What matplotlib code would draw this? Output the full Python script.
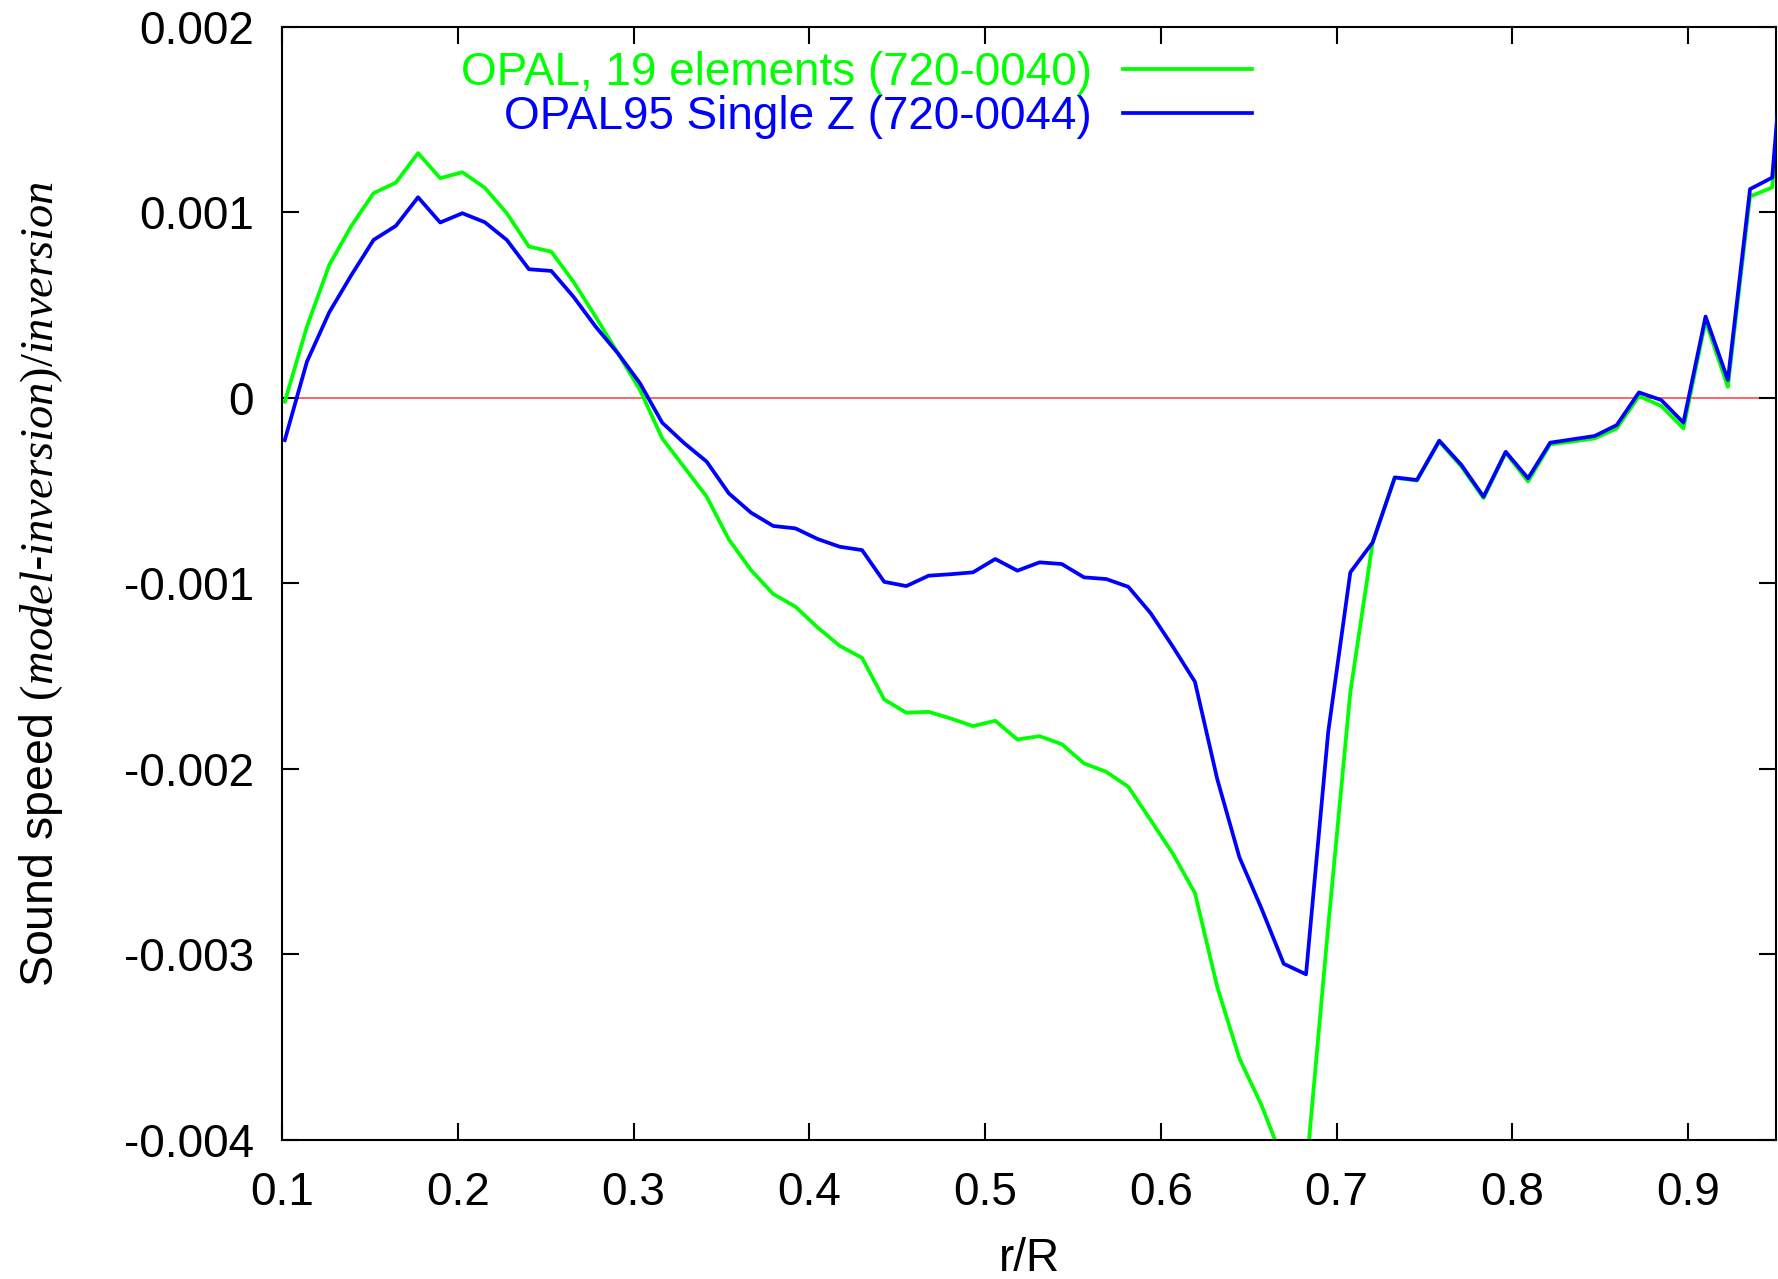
#! /usr/bin/env python

import matplotlib
matplotlib.use('Agg')
import matplotlib.pyplot as plt
from matplotlib.ticker import FuncFormatter
import numpy as np

# radius grid (r/R)
r = [0.1016, 0.1142, 0.1269, 0.1395, 0.1521, 0.1648, 0.1774, 0.1900, 0.2026, 0.2153,
     0.2279, 0.2405, 0.2532, 0.2658, 0.2784, 0.2911, 0.3037, 0.3163, 0.3289, 0.3416,
     0.3542, 0.3668, 0.3795, 0.3921, 0.4047, 0.4173, 0.4300, 0.4426, 0.4552, 0.4679,
     0.4805, 0.4931, 0.5058, 0.5184, 0.5310, 0.5436, 0.5563, 0.5689, 0.5815, 0.5942,
     0.6068, 0.6194, 0.6321, 0.6447, 0.6573, 0.6699, 0.6826, 0.6952, 0.7078, 0.7205,
     0.7331, 0.7457, 0.7584, 0.7710, 0.7836, 0.7962, 0.8089, 0.8215, 0.8341, 0.8468,
     0.8594, 0.8720, 0.8847, 0.8973, 0.9099, 0.9226, 0.9352, 0.9478, 0.9604]

# OPAL, 19 elements (720-0040)
opal19 = [-0.00002, 0.000385, 0.000717, 0.000928, 0.001104, 0.001161, 0.00132, 0.001185, 0.001217, 0.001134,
          0.000996, 0.000816, 0.000789, 0.000627, 0.000439, 0.000241, 0.000043, -0.000218, -0.000374, -0.000532,
          -0.000762, -0.000928, -0.001057, -0.001125, -0.001237, -0.001336, -0.001401, -0.001625, -0.001697, -0.001692,
          -0.001728, -0.001769, -0.00174, -0.001841, -0.001823, -0.001866, -0.00197, -0.002015, -0.002096, -0.002276,
          -0.002456, -0.002669, -0.003175, -0.00356, -0.003813, -0.00412, -0.00418, -0.00285, -0.001586, -0.000779,
          -0.00043, -0.000445, -0.000235, -0.00037, -0.00054, -0.000295, -0.00045, -0.00025, -0.000235, -0.000218,
          -0.000164, 0.00001, -0.000043, -0.000164, 0.000415, 0.00006, 0.001086, 0.001135, 0.00255]

# OPAL95 Single Z (720-0044)
opal95 = [-0.000227, 0.000196, 0.000462, 0.000663, 0.000852, 0.000928, 0.001082, 0.000946, 0.000996, 0.000948,
          0.000852, 0.000694, 0.000685, 0.000546, 0.000385, 0.000241, 0.000079, -0.000133, -0.000244, -0.000343,
          -0.000514, -0.000618, -0.00069, -0.000703, -0.00076, -0.000802, -0.00082, -0.000991, -0.001014, -0.000958,
          -0.00095, -0.00094, -0.000868, -0.000931, -0.000886, -0.000895, -0.000967, -0.000976, -0.001018, -0.00116,
          -0.00134, -0.00153, -0.002055, -0.002476, -0.002753, -0.00305, -0.003107, -0.001802, -0.00094, -0.000779,
          -0.000428, -0.000442, -0.00023, -0.000361, -0.000532, -0.00029, -0.000433, -0.000241, -0.000223, -0.000205,
          -0.000146, 0.00003, -0.000011, -0.000133, 0.000439, 0.000097, 0.001126, 0.001188, 0.00263]

labels = ['OPAL, 19 elements (720-0040)', 'OPAL95 Single Z (720-0044)']


def main():
    plt.rcParams['font.family'] = ['Liberation Sans', 'DejaVu Sans']
    plt.rcParams['mathtext.fontset'] = 'custom'
    plt.rcParams['mathtext.it'] = 'Liberation Serif:italic'
    plt.rcParams['mathtext.rm'] = 'Liberation Serif'
    plt.rcParams['axes.unicode_minus'] = False

    fig = plt.figure(figsize=(17.78, 12.79), dpi=100)
    ax = fig.add_axes([0.1586, 0.1087, 0.8403, 0.8702])

    ax.axhline(0, color='#ff3a3a', lw=1.1, zorder=1)
    ax.plot(r, opal19, color='#00ff00', lw=2.7, label=labels[0], zorder=2)
    ax.plot(r, opal95, color='#0000ff', lw=2.7, label=labels[1], zorder=3)

    ax.set_xlim(0.1, 0.95)
    ax.set_ylim(-0.004, 0.002)
    ax.set_xticks(np.arange(0.1, 0.91, 0.1))
    ax.set_yticks(np.arange(-0.004, 0.0021, 0.001))
    fmt = FuncFormatter(lambda v, p: '%g' % round(v, 6))
    ax.xaxis.set_major_formatter(fmt)
    ax.yaxis.set_major_formatter(fmt)

    ax.tick_params(direction='in', top=True, right=True, length=12, width=1.5,
                   labelsize=33, colors='black')
    ax.tick_params(axis='x', pad=22)
    ax.tick_params(axis='y', pad=20)
    for s in ax.spines.values():
        s.set_linewidth(1.5)

    ax.set_xlabel('r/R', fontsize=33, labelpad=16)
    ax.set_ylabel('Sound speed $\\mathit{(model}$-$\\mathit{inversion)/inversion}$', fontsize=33.5)
    ax.yaxis.set_label_coords(-0.145, 0.5)

    ax.legend(loc='upper right', bbox_to_anchor=(0.649, 0.978), frameon=False,
              markerfirst=False, fontsize=33, handlelength=2.8, handletextpad=0.68,
              labelspacing=0.0, borderpad=0, borderaxespad=0, labelcolor='linecolor')

    fig.savefig('out.png', dpi=100)


if __name__ == '__main__':
    main()
